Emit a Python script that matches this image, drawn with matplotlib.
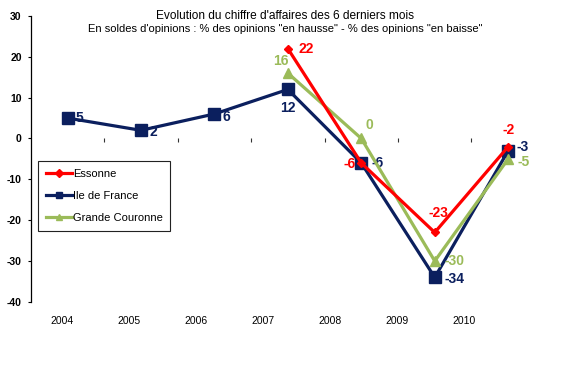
import numpy as np
import matplotlib
matplotlib.use("Agg")
import matplotlib.pyplot as plt

years = ["2004", "2005", "2006", "2007", "2008", "2009", "2010"]
essonne = [np.nan, np.nan, np.nan, 22, -6, -23, -2]
idf = [5, 2, 6, 12, -6, -34, -3]
grande_couronne = [np.nan, np.nan, np.nan, 16, 0, -30, -5]

plt.rcParams['font.family'] = ['Liberation Sans', 'DejaVu Sans']
plt.rcParams['axes.unicode_minus'] = False

RED = "#FF0000"
NAVY = "#0B1F5E"
GREEN = "#9BBB59"

fig = plt.figure(figsize=(5.7, 3.7), dpi=100)
ax = fig.add_axes([0.054, 0.184, 0.902, 0.773])
x = np.arange(len(years))

ax.plot(x, essonne, color=RED, lw=2.3, marker='D', ms=4.5, label="Essonne", zorder=5)
ax.plot(x, idf, color=NAVY, lw=2.3, marker='s', ms=8.5, label="Ile de France", zorder=3)
ax.plot(x, grande_couronne, color=GREEN, lw=2.3, marker='^', ms=7.5, label="Grande Couronne", zorder=4)

ax.set_xlim(-0.5, 6.5)
ax.set_ylim(-40, 30)
ax.set_yticks(np.arange(-40, 31, 10))
ax.tick_params(axis='y', direction='out', length=2.5, width=0.8, labelsize=7.5, pad=4)
for lab in ax.get_yticklabels():
    lab.set_fontweight('bold')

# x axis at zero: invisible line with small tick marks between categories
ax.spines['bottom'].set_position(('data', 0))
ax.spines['bottom'].set_visible(False)
ax.spines['top'].set_visible(False)
ax.spines['right'].set_visible(False)
ax.spines['left'].set_linewidth(0.9)
ax.set_xticks(x[:-1] + 0.5, minor=True)
ax.set_xticks([])
ax.tick_params(axis='x', which='minor', direction='out', length=3, width=0.8, color='#333333')

# category labels (slightly compressed, as in the reference)
sec = ax.secondary_xaxis(0)
sec.set_xticks(x * 0.914 - 0.08, years)
sec.tick_params(length=0, labelsize=7.5, pad=10)
sec.spines['bottom'].set_visible(False)

# data labels
fs = 10
def lab(xi, yi, txt, color, dx, dy, ha='left', va='center'):
    ax.annotate(txt, (xi, yi), xytext=(dx, dy), textcoords='offset points',
                color=color, fontsize=fs, fontweight='bold', ha=ha, va=va)

# Ile de France
lab(0, 5, "5", NAVY, 6, 0)
lab(1, 2, "2", NAVY, 6, -1)
lab(2, 6, "6", NAVY, 6, -2)
lab(3, 12, "12", NAVY, 0, -13, ha='center')
lab(4, -6, "-6", NAVY, 7, 0)
lab(5, -34, "-34", NAVY, 7, -1)
lab(6, -3, "-3", NAVY, 6, 3)
# Essonne
lab(3, 22, "22", RED, 8, 0)
lab(4, -6, "-6", RED, -4, -1, ha='right')
lab(5, -23, "-23", RED, 3, 14, ha='center')
lab(6, -2, "-2", RED, 0, 12, ha='center')
# Grande Couronne
lab(3, 16, "16", GREEN, -5, 9, ha='center')
lab(4, 0, "0", GREEN, 6, 10, ha='center')
lab(5, -30, "-30", GREEN, 7, 0)
lab(6, -5, "-5", GREEN, 7, -2)

leg = ax.legend(loc='upper left', bbox_to_anchor=(0.008, 0.505), fontsize=8,
                frameon=True, fancybox=False, edgecolor='#222222', framealpha=1,
                handlelength=2.3, labelspacing=1.1, borderpad=0.7, handletextpad=0.1,
                borderaxespad=0.3)
leg.get_frame().set_linewidth(0.8)
for h in leg.legend_handles:
    h.set_markersize(4)

fig.text(0.5, 0.958, "Evolution du chiffre d'affaires des 6 derniers mois",
         ha='center', va='center', fontsize=8.6)
fig.text(0.5, 0.922, "En soldes d'opinions : % des opinions \"en hausse\" - % des opinions \"en baisse\"",
         ha='center', va='center', fontsize=8)

fig.savefig("out.png", dpi=100)
